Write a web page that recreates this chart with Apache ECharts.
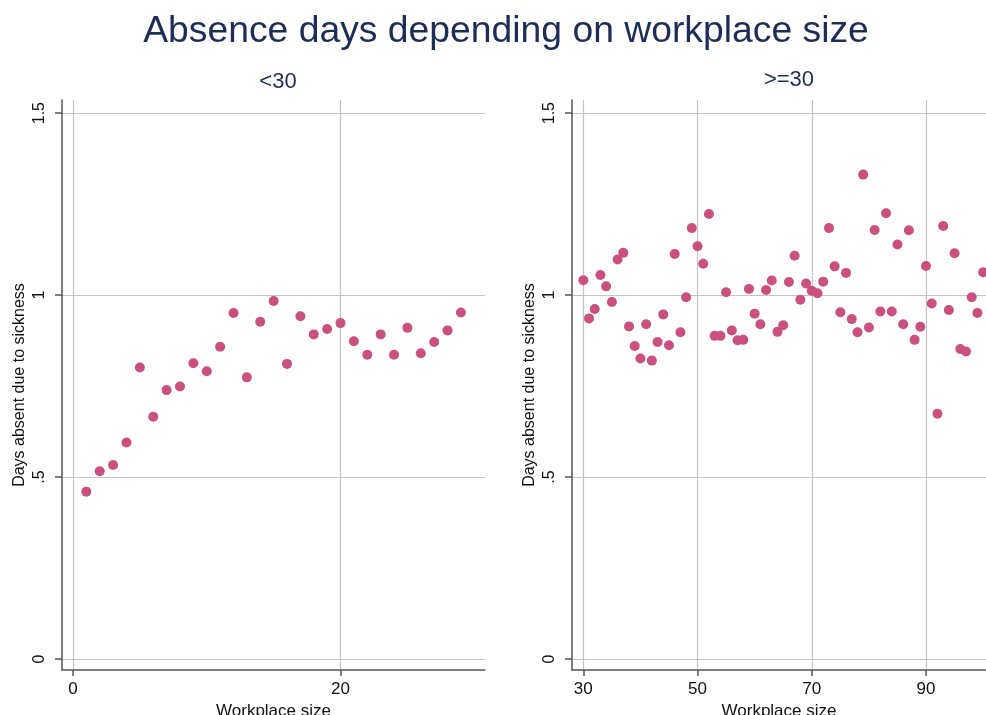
<!DOCTYPE html>
<html>
<head>
<meta charset="utf-8">
<script src="https://cdn.jsdelivr.net/npm/echarts@6/dist/echarts.min.js"></script>
<style>
  html, body { margin: 0; padding: 0; background: #fff; }
  #chart { width: 986px; height: 715px; }
</style>
</head>
<body>
<div id="chart"></div>
<script>
// Workplace sizes and mean sick days, split at 30 employees
const smallSizes = [1,2,3,4,5,6,7,8,9,10,11,12,13,14,15,16,17,18,19,20,21,22,23,24,25,26,27,28,29];
const smallDays = [0.460,0.516,0.533,0.595,0.801,0.666,0.739,0.749,0.813,0.791,0.858,0.951,0.774,0.927,0.984,
  0.811,0.942,0.892,0.907,0.923,0.873,0.836,0.892,0.836,0.910,0.840,0.871,0.903,0.952];

const largeSizes = [30,31,32,33,34,35,36,37,38,39,40,41,42,43,44,45,46,47,48,49,50,51,52,53,54,55,56,57,58,59,
  60,61,62,63,64,65,66,67,68,69,70,71,72,73,74,75,76,77,78,79,80,81,82,83,84,85,86,87,88,89,
  90,91,92,93,94,95,96,97,98,99,100];
const largeDays = [1.041,0.936,0.962,1.055,1.024,0.981,1.098,1.116,0.914,0.860,0.826,0.920,0.820,0.871,0.947,
  0.862,1.113,0.898,0.994,1.184,1.134,1.086,1.223,0.888,0.888,1.008,0.903,0.876,0.877,1.017,
  0.949,0.920,1.014,1.040,0.899,0.917,1.036,1.108,0.987,1.032,1.012,1.005,1.037,1.184,1.079,
  0.953,1.061,0.934,0.898,1.331,0.911,1.179,0.955,1.225,0.955,1.139,0.920,1.178,0.877,0.913,
  1.080,0.977,0.674,1.190,0.959,1.115,0.852,0.845,0.994,0.951,1.063];

const yTicks = [0, 0.5, 1, 1.5];
const smallXTicks = [0, 20];
const largeXTicks = [30, 50, 70, 90];

const mainTitle = 'Absence days depending on workplace size';
const panelTitles = ['<30', '>=30'];
const xName = 'Workplace size';
const yName = 'Days absent due to sickness';

const FONT = '"Liberation Sans", Arial, Helvetica, sans-serif';
const NAVY = '#1e2d55';
const DOT = '#c9507f';
const GRID = '#c4c4c4';
const AXIS = '#555555';

function pairs(xs, ys) { return xs.map((x, i) => [x, ys[i]]); }

function yLabel(v) {
  if (v === 0) return '0';
  if (v < 1) return String(v).replace(/^0/, '');
  return String(v);
}

function makeX(idx, min, max, ticks) {
  return {
    type: 'value', gridIndex: idx, min: min, max: max,
    name: xName, nameLocation: 'middle', nameGap: 31,
    nameTextStyle: { fontFamily: FONT, fontSize: 17, color: '#111' },
    axisLine: { show: true, onZero: false, lineStyle: { color: AXIS, width: 1.5 } },
    axisTick: { show: true, length: 6, customValues: ticks, lineStyle: { color: AXIS, width: 1.5 } },
    axisLabel: { customValues: ticks, margin: 11, fontFamily: FONT, fontSize: 17, color: '#111' },
    splitLine: { show: true, lineStyle: { color: GRID, width: 1.2 } }
  };
}

function makeY(idx) {
  return {
    type: 'value', gridIndex: idx, min: -0.03, max: 1.536,
    name: yName, nameLocation: 'middle', nameGap: 34, nameRotate: 90,
    nameTextStyle: { fontFamily: FONT, fontSize: 16, color: '#111' },
    axisLine: { show: true, onZero: false, lineStyle: { color: AXIS, width: 1.5 } },
    axisTick: { show: true, length: 7, customValues: yTicks, lineStyle: { color: AXIS, width: 1.5 } },
    axisLabel: { customValues: yTicks, rotate: 90, margin: 14, formatter: yLabel,
      fontFamily: FONT, fontSize: 16, color: '#111', align: 'center', verticalAlign: 'bottom' },
    splitLine: { show: true, lineStyle: { color: GRID, width: 1.2 } }
  };
}

const chart = echarts.init(document.getElementById('chart'), null, { renderer: 'canvas' });
chart.setOption({
  animation: false,
  backgroundColor: '#fff',
  title: [
    { text: mainTitle, left: 501, top: 8, textAlign: 'center',
      textStyle: { fontFamily: FONT, fontSize: 37.3, fontWeight: 'normal', color: NAVY } },
    { text: panelTitles[0], left: 273, top: 66, textAlign: 'center',
      textStyle: { fontFamily: FONT, fontSize: 22, fontWeight: 'normal', color: NAVY } },
    { text: panelTitles[1], left: 784, top: 64, textAlign: 'center',
      textStyle: { fontFamily: FONT, fontSize: 22, fontWeight: 'normal', color: NAVY } }
  ],
  grid: [
    { left: 62, top: 100, width: 423, height: 570, outerBoundsMode: 'none', containLabel: false },
    { left: 572, top: 100, width: 414, height: 570, outerBoundsMode: 'none', containLabel: false }
  ],
  xAxis: [
    makeX(0, -0.82, 30.8, smallXTicks),
    makeX(1, 28.02, 100.5, largeXTicks)
  ],
  yAxis: [makeY(0), makeY(1)],
  series: [
    { type: 'scatter', xAxisIndex: 0, yAxisIndex: 0, data: pairs(smallSizes, smallDays),
      symbolSize: 10, itemStyle: { color: DOT, opacity: 1 } },
    { type: 'scatter', xAxisIndex: 1, yAxisIndex: 1, data: pairs(largeSizes, largeDays),
      symbolSize: 10, itemStyle: { color: DOT, opacity: 1 } }
  ]
});
</script>
</body>
</html>
